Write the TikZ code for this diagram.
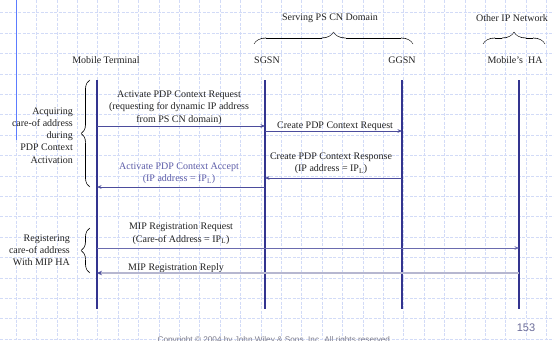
\documentclass[tikz,border=0pt]{standalone}
\usepackage{fontspec}
\setmainfont{Liberation Serif}
\setsansfont{Liberation Sans}
\usepackage{tikz}
\usepackage{xcolor}
\usetikzlibrary{decorations.pathreplacing,calligraphy}
\usetikzlibrary{arrows.meta}
\definecolor{lifeblue}{HTML}{33348F}
\definecolor{msgblue}{HTML}{4B4C9C}
\definecolor{reqblue}{HTML}{6A6BAE}
\definecolor{gridblue}{HTML}{D2DBF7}
\definecolor{barblue}{HTML}{5C7CFF}
\definecolor{acceptblue}{HTML}{5C5CA8}
\definecolor{replygray}{HTML}{B6B7D0}
\definecolor{pagegray}{HTML}{6A6B98}
\definecolor{copygray}{HTML}{7C7C8C}
\definecolor{inkgray}{HTML}{222222}
\tikzset{
  entity/.style={font=\fontsize{10}{12}\selectfont, text=inkgray, inner sep=0pt},
  lifeline/.style={draw=lifeblue, line width=1.1pt},
  msg/.style={draw=msgblue, line width=0.7pt, -{Stealth[length=4.5pt,width=3.6pt]}},
  msgtext/.style={align=center, font=\fontsize{10}{12.5}\selectfont, text=inkgray, inner sep=0pt},
  sidetext/.style={align=right, font=\fontsize{10}{12.2}\selectfont, text=inkgray, inner sep=0pt, anchor=east},
  cbrace/.style={decorate, decoration={calligraphic brace, amplitude=#1}, draw=msgblue, line width=0.7pt},
  gridline/.style={draw=gridblue, line width=0.6pt, dash pattern=on 3pt off 1.5pt},
}
\newcommand{\ipl}{IP\textsubscript{L}}

\begin{document}
\begin{tikzpicture}[x=1pt,y=-1pt]
\useasboundingbox (0,0) rectangle (554,340);
\fill[white] (0,0) rectangle (554,340);

% slide grid
\foreach \i in {0,...,26}
  \draw[gridline] ({16+20.4*\i},0) -- ({16+20.4*\i},340);
\foreach \j in {0,...,16}
  \draw[gridline] (0,{12.7+20.4*\j}) -- (554,{12.7+20.4*\j});
\draw[barblue, line width=1pt] (16,0) -- (16,140);

% domains
\node[entity] (serving) at (330,18) {Serving PS CN Domain};
\node[entity] (otherip) at (512,18) {Other IP Network};
\draw[cbrace=12pt] (254,44) -- (413,44);
\draw[cbrace=12pt] (483,44) -- (545,44);

% entities
\node[entity] (mtlabel) at (106,60) {Mobile Terminal};
\node[entity] (sgsnlabel) at (267,60) {SGSN};
\node[entity] (ggsnlabel) at (402,60) {GGSN};
\node[entity] (halabel) at (515,60) {Mobile’s\ \ HA};

\coordinate (mt) at (97,80);
\coordinate (sgsn) at (265,80);
\coordinate (ggsn) at (402,80);
\coordinate (ha) at (519,80);
\coordinate (mtend) at (97,309);
\coordinate (sgsnend) at (265,309);
\coordinate (ggsnend) at (402,309);
\coordinate (haend) at (519,309);

\draw[lifeline] (mt) -- (mtend);
\draw[lifeline] (sgsn) -- (sgsnend);
\draw[lifeline] (ggsn) -- (ggsnend);
\draw[lifeline] (ha) -- (haend);

% phases
\draw[cbrace=9pt] (90,187) -- (90,80);
\draw[cbrace=9pt] (90,273) -- (90,228);
\node[sidetext] (acquire) at (73,135.5) {Acquiring\\care-of address\\during\hspace{3pt}\\PDP Context\\Activation};
\node[sidetext] (register) at (70,250) {Registering\\care-of address\\With MIP HA};

% messages
\coordinate (r1) at (0,126);
\coordinate (r2) at (0,131);
\coordinate (r3) at (0,178);
\coordinate (r4) at (0,187);
\coordinate (r5) at (0,248);
\coordinate (r6) at (0,273);

\node[msgtext] (actreq) at (179,107.5) {Activate PDP Context Request\\(requesting for dynamic IP address\\from PS CN domain)};
\draw[msg] (mt |- r1) -- (sgsn |- r1);

\node[msgtext] (crreq) at (335,126.5) {Create PDP Context Request};
\draw[msg] (sgsn |- r2) -- (ggsn |- r2);

\node[msgtext] (crresp) at (331,163.5) {Create PDP Context Response\\(IP address = \ipl)};
\draw[msg] (ggsn |- r3) -- (sgsn |- r3);

\node[msgtext, text=acceptblue] (actacc) at (179,173.5) {Activate PDP Context Accept\\(IP address = \ipl)};
\draw[msg] (sgsn |- r4) -- (mt |- r4);

\node[msgtext] (mipreq) at (181,234) {MIP Registration Request\\(Care-of Address = \ipl)};
\draw[msg, draw=reqblue] (mt |- r5) -- (ha |- r5);

\node[msgtext] (miprep) at (176,268.5) {MIP Registration Reply};
\draw[draw=replygray, line width=1.8pt, -{Stealth[length=5pt,width=4.5pt,color=msgblue]}] (ha |- r6) -- (mt |- r6);

% footer
\node[font=\sffamily\fontsize{11}{13}\selectfont, text=pagegray] (pagenum) at (526,328) {153};
\node[font=\sffamily\fontsize{8.2}{10}\selectfont, text=copygray, anchor=base] (copyright) at (275,342) {Copyright © 2004 by John Wiley \& Sons, Inc. All rights reserved.};
\end{tikzpicture}
\end{document}
